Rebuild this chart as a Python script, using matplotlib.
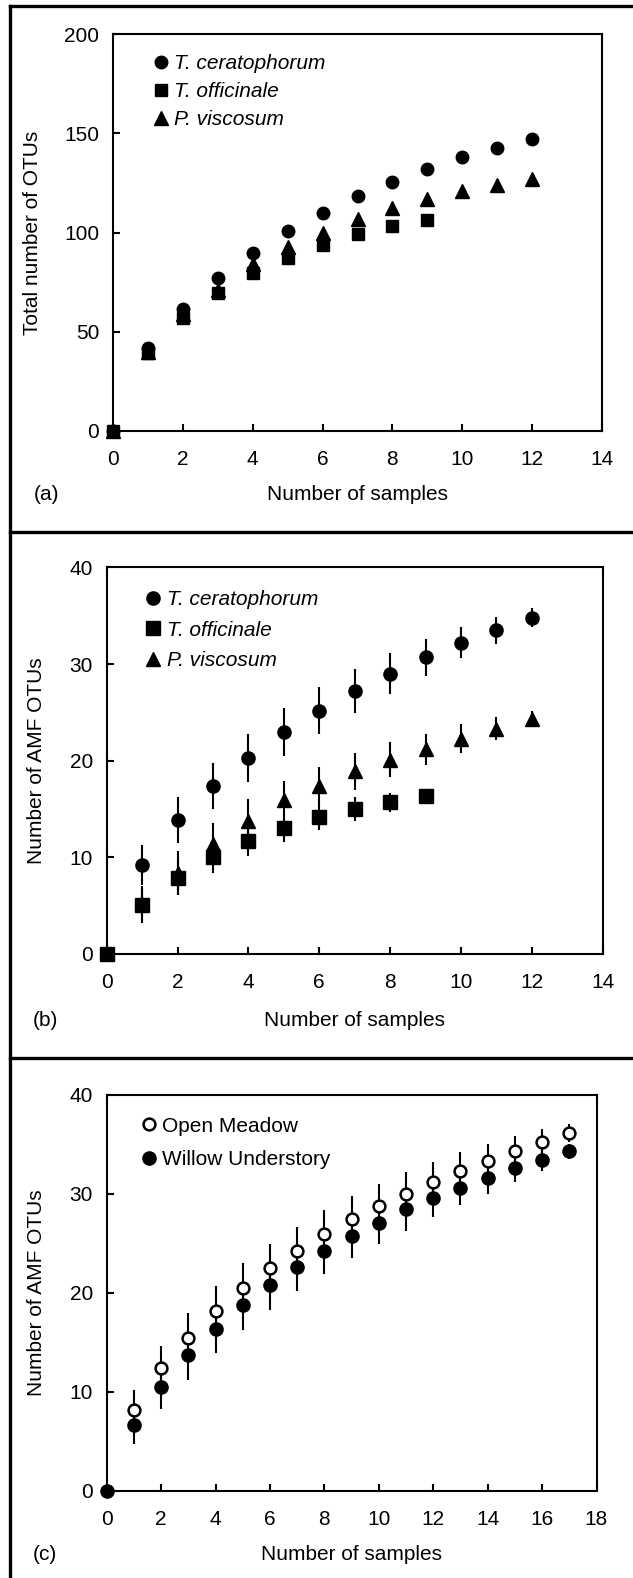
import matplotlib
matplotlib.use("Agg")
import matplotlib.pyplot as plt
from matplotlib.lines import Line2D

plt.rcParams.update({'font.family': ['Liberation Sans', 'DejaVu Sans'], 'font.size': 15})

# (a) total OTUs
a_x_cer = [0, 1, 2, 3, 4, 5, 6, 7, 8, 9, 10, 11, 12]
a_cer = [0, 41.6, 61.7, 77.3, 89.9, 100.8, 110.0, 118.4, 125.7, 132.1, 138.0, 142.8, 147.2]
a_x_off = [0, 1, 2, 3, 4, 5, 6, 7, 8, 9]
a_off = [0, 39.2, 57.2, 69.7, 79.5, 87.3, 93.5, 99.1, 103.3, 106.6]
a_x_vis = [0, 1, 2, 3, 4, 5, 6, 7, 8, 9, 10, 11, 12]
a_vis = [0, 40.0, 59.0, 71.0, 84.0, 92.9, 99.9, 107.0, 112.2, 117.0, 120.9, 124.2, 127.2]

# (b) AMF OTUs
b_x_cer = [1, 2, 3, 4, 5, 6, 7, 8, 9, 10, 11, 12]
b_cer = [9.2, 13.9, 17.4, 20.3, 23.0, 25.2, 27.2, 29.0, 30.7, 32.2, 33.5, 34.8]
b_cer_err = [2.05, 2.4, 2.4, 2.5, 2.5, 2.4, 2.3, 2.1, 1.9, 1.6, 1.4, 1.0]
b_x_off = [0, 1, 2, 3, 4, 5, 6, 7, 8, 9]
b_off = [0, 5.05, 7.9, 10.0, 11.7, 13.0, 14.2, 15.0, 15.7, 16.4]
b_off_err = [0, 1.8, 1.8, 1.6, 1.6, 1.4, 1.4, 1.2, 1.0, 0]
b_x_vis = [1, 2, 3, 4, 5, 6, 7, 8, 9, 10, 11, 12]
b_vis = [5.2, 8.4, 11.4, 13.8, 15.9, 17.4, 18.9, 20.1, 21.2, 22.3, 23.3, 24.3]
b_vis_err = [1.8, 2.3, 2.2, 2.2, 2.0, 2.0, 1.9, 1.8, 1.6, 1.5, 1.2, 0.8]

# (c) meadow vs willow
c_x = [0, 1, 2, 3, 4, 5, 6, 7, 8, 9, 10, 11, 12, 13, 14, 15, 16, 17]
c_open = [0, 8.14, 12.36, 15.45, 18.15, 20.43, 22.5, 24.2, 25.9, 27.4, 28.7, 30.0, 31.2, 32.3, 33.3, 34.3, 35.2, 36.1]
c_open_err = [0, 2.0, 2.25, 2.45, 2.5, 2.5, 2.4, 2.4, 2.4, 2.3, 2.25, 2.15, 2.0, 1.85, 1.65, 1.5, 1.3, 0.9]
c_willow = [0, 6.58, 10.46, 13.7, 16.35, 18.7, 20.74, 22.6, 24.2, 25.7, 27.0, 28.4, 29.5, 30.6, 31.6, 32.55, 33.4, 34.25]
c_willow_err = [0, 1.85, 2.2, 2.5, 2.5, 2.5, 2.5, 2.4, 2.35, 2.25, 2.1, 2.15, 1.9, 1.8, 1.6, 1.4, 1.1, 0.75]

W, H = 633, 1578
fig = plt.figure(figsize=(W / 100, H / 100), dpi=100)


def make_axes(l, r, t, b):
    ax = fig.add_axes([l / W, 1 - b / H, (r - l) / W, (b - t) / H])
    for s in ax.spines.values():
        s.set_linewidth(1.5)
    ax.tick_params(direction='in', length=5, width=1.5, top=False, right=False)
    ax.tick_params(axis='x', pad=14)
    ax.tick_params(axis='y', pad=10)
    return ax


def finish(ax, xmax, ymax, ystep, ylabel, t, b, l, r, ylab_x, xlab_y):
    ax.set_xlim(0, xmax)
    ax.set_ylim(0, ymax)
    ax.set_xticks(range(0, xmax + 1, 2))
    ax.set_yticks(range(0, ymax + 1, ystep))
    ax.set_xlabel("Number of samples")
    ax.set_ylabel(ylabel)
    ax.yaxis.set_label_coords((ylab_x - l) / (r - l), 0.5)
    ax.xaxis.set_label_coords(0.5, -(xlab_y - b) / (b - t))
    ax.xaxis.label.set_va('center')


def legend_at(ax, handles, labels, px, py, l, r, t, b, spacing, textpad, italic=True):
    prop = {'style': 'italic'} if italic else {}
    ax.legend(handles, labels, loc='upper left',
              bbox_to_anchor=((px - l) / (r - l), 1 - (py - t) / (b - t)),
              frameon=False, handlelength=0.6, handletextpad=textpad,
              labelspacing=spacing, borderaxespad=0, prop=prop)


# panel a
l, r, t, b = 113, 602, 34.2, 431
ax = make_axes(l, r, t, b)
h1, = ax.plot(a_x_cer, a_cer, 'o', color='k', ms=9, clip_on=False)
h3, = ax.plot(a_x_vis, a_vis, '^', color='k', ms=10, clip_on=False)
h2, = ax.plot(a_x_off, a_off, 's', color='k', ms=9, clip_on=False)
finish(ax, 14, 200, 50, "Total number of OTUs", t, b, l, r, 42, 494)
legend_at(ax, [h1, h2, h3], ["T. ceratophorum", "T. officinale", "P. viscosum"],
          146, 45.5, l, r, t, b, 0.435, 0.34)
fig.text(47 / W, 1 - 494 / H, "(a)", ha='center', va='center')

# panel b
l, r, t, b = 106.7, 602.7, 567.5, 954
ax = make_axes(l, r, t, b)
ax.errorbar(b_x_cer, b_cer, yerr=b_cer_err, fmt='o', color='k', ms=9.5,
            elinewidth=1.5, capsize=0, clip_on=False)
ax.errorbar(b_x_vis, b_vis, yerr=b_vis_err, fmt='^', color='k', ms=10,
            elinewidth=1.5, capsize=0, clip_on=False)
ax.errorbar(b_x_off, b_off, yerr=b_off_err, fmt='s', color='k', ms=9.5,
            elinewidth=1.5, capsize=0, clip_on=False)
finish(ax, 14, 40, 10, "Number of AMF OTUs", t, b, l, r, 46, 1021)
hb = [Line2D([], [], marker=m, ls='none', color='k', ms=s) for m, s in (('o', 9.5), ('s', 9.5), ('^', 10))]
legend_at(ax, hb, ["T. ceratophorum", "T. officinale", "P. viscosum"],
          138, 582, l, r, t, b, 0.54, 0.38)
fig.text(45 / W, 1 - 1021 / H, "(b)", ha='center', va='center')

# panel c
l, r, t, b = 106.7, 596.5, 1094.5, 1490.5
ax = make_axes(l, r, t, b)
ax.errorbar(c_x, c_open, yerr=c_open_err, fmt='none', ecolor='k', elinewidth=1.5, capsize=0)
ax.errorbar(c_x, c_willow, yerr=c_willow_err, fmt='none', ecolor='k', elinewidth=1.5, capsize=0)
hw, = ax.plot(c_x, c_willow, 'o', color='k', ms=9.5, clip_on=False, zorder=3)
ho, = ax.plot(c_x[1:], c_open[1:], 'o', mfc='white', mec='k', mew=1.8, ms=8.5, zorder=4)
finish(ax, 18, 40, 10, "Number of AMF OTUs", t, b, l, r, 46, 1555)
legend_at(ax, [ho, hw], ["Open Meadow", "Willow Understory"],
          134.5, 1108.3, l, r, t, b, 0.69, 0.33, italic=False)
fig.text(45 / W, 1 - 1555 / H, "(c)", ha='center', va='center')

# outer frame and panel dividers
bx, by = 9.5, 5.5
for seg in [((bx, bx), (by, H)), ((bx, W), (by, by)), ((bx, W), (532, 532)), ((bx, W), (1057.7, 1057.7))]:
    xs = [v / W for v in seg[0]]
    ys = [1 - v / H for v in seg[1]]
    fig.add_artist(Line2D(xs, ys, color='k', lw=2.4, transform=fig.transFigure))

fig.savefig("out.png", dpi=100)
